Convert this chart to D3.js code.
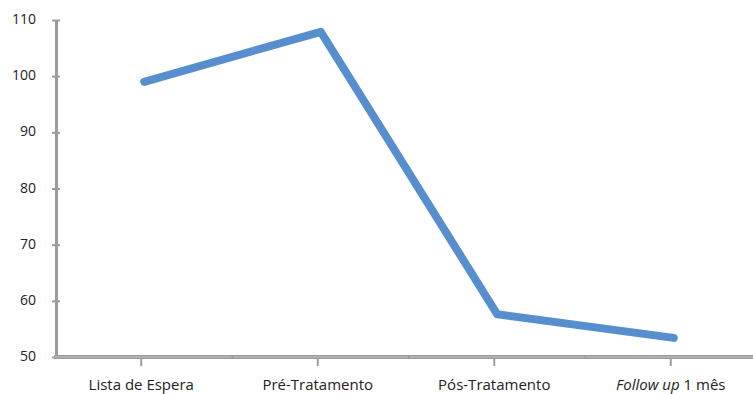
<!DOCTYPE html>
<html>
<head>
<meta charset="utf-8">
<script src="https://cdn.jsdelivr.net/npm/d3@7"></script>
<style>
  body { margin: 0; background: #fff; }
  svg text { font-family: "Open Sans", sans-serif; fill: #222; }
</style>
</head>
<body>
<div id="chart"></div>
<script>
const categories = ["Lista de Espera", "Pré-Tratamento", "Pós-Tratamento", "Follow up 1 mês"];
const values = [99, 107.9, 57.6, 53.4];
const yTicks = [50, 60, 70, 80, 90, 100, 110];

const width = 753, height = 394;
const margin = { top: 20, left: 56, bottom: 37 };

let svg = d3.select("#chart")
    .append("svg")
    .attr("width", width)
    .attr("height", height);

let x = d3.scaleBand()
    .domain(categories)
    .range([margin.left, 762]);

let y = d3.scaleLinear()
    .domain([50, 110])
    .range([height - margin.bottom, margin.top]);

const axisColor = "#9c9ca0";

// y axis
let yAxis = svg.append("g")
    .attr("transform", "translate(" + margin.left + ",0)")
    .call(d3.axisLeft(y).tickValues(yTicks).tickSize(0).tickPadding(20));
yAxis.select(".domain").attr("stroke", axisColor).attr("stroke-width", 3);
yAxis.selectAll("text")
    .attr("font-size", 14)
    .attr("dy", "0.25em");
yAxis.selectAll(".tick").append("line")
    .attr("x1", -4).attr("x2", 4)
    .attr("stroke", axisColor).attr("stroke-width", 2);

// x axis
let xAxis = svg.append("g")
    .attr("transform", "translate(0," + y(50) + ")");
xAxis.append("line")
    .attr("x1", margin.left - 2).attr("x2", width)
    .attr("stroke", axisColor).attr("stroke-width", 4);
xAxis.append("line")
    .attr("x1", margin.left - 2).attr("x2", width)
    .attr("stroke", "#c4c4c8").attr("stroke-width", 1);
xAxis.selectAll(".sep")
    .data(categories.slice(1))
    .enter()
    .append("line")
    .attr("class", "sep")
    .attr("x1", d => x(d)).attr("x2", d => x(d))
    .attr("y1", -2).attr("y2", 2)
    .attr("stroke", axisColor).attr("stroke-width", 2);
xAxis.selectAll(".tk")
    .data(categories)
    .enter()
    .append("line")
    .attr("class", "tk")
    .attr("x1", d => x(d) + x.bandwidth() / 2 - 3)
    .attr("x2", d => x(d) + x.bandwidth() / 2 - 3)
    .attr("y1", 2).attr("y2", 9)
    .attr("stroke", axisColor).attr("stroke-width", 2);

let labels = xAxis.selectAll(".lbl")
    .data(categories)
    .enter()
    .append("text")
    .attr("class", "lbl")
    .attr("x", d => x(d) + x.bandwidth() / 2 - 3)
    .attr("y", 33)
    .attr("text-anchor", "middle")
    .attr("font-size", 15);
labels.each(function (d) {
    let t = d3.select(this);
    if (d.startsWith("Follow up")) {
        t.append("tspan").attr("font-style", "italic").text("Follow up");
        t.append("tspan").text(d.replace("Follow up", ""));
    } else {
        t.text(d);
    }
});

// line
let line = d3.line()
    .x((d, i) => x(categories[i]) + x.bandwidth() / 2)
    .y(d => y(d));

svg.append("path")
    .datum(values)
    .attr("d", line)
    .attr("fill", "none")
    .attr("stroke", "#578fce")
    .attr("stroke-width", 8)
    .attr("stroke-linecap", "round")
    .attr("stroke-linejoin", "round");
</script>
</body>
</html>
